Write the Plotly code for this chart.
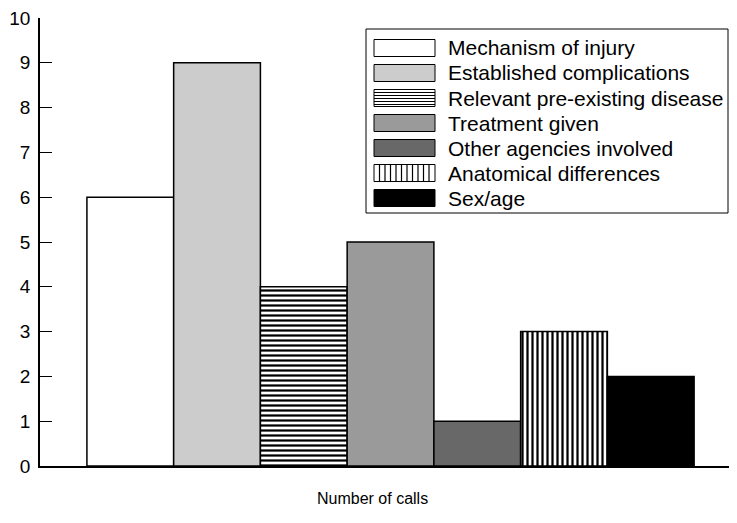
import plotly.graph_objects as go

categories = ["Mechanism of injury", "Established complications",
              "Relevant pre-existing disease", "Treatment given",
              "Other agencies involved", "Anatomical differences", "Sex/age"]
values = [6, 9, 4, 5, 1, 3, 2]
fill_colors = ["#ffffff", "#cccccc", "#ffffff", "#9a9a9a", "#686868", "#ffffff", "#000000"]
patterns = ["", "", "-", "", "", "|", ""]
x_label = "Number of calls"
y_ticks = list(range(0, 11))

# page layout (the html body adds an 8px margin)
W, H = 729, 515
L, R, T, B = 32, 7, 10, 57
PW, PH = W - L - R, H - T - B


def px(x):  # figure-pixel x -> paper
    return (x - L) / PW


def py(y):  # figure-pixel y -> paper
    return (H - B - y) / PH


fig = go.Figure()
for name, v, c, p in zip(categories, values, fill_colors, patterns):
    marker = dict(color=c, line=dict(color="#000000", width=1.5))
    if p:
        marker["pattern"] = dict(shape=p, size=5, solidity=0.45,
                                 fgcolor="#000000", bgcolor="#ffffff", fillmode="replace")
    fig.add_trace(go.Bar(x=[x_label], y=[v], name=name, marker=marker, showlegend=False))

# custom legend (large swatches like the original)
shapes = []
annotations = []
box_l, box_r, box_t, box_b = 358, 720, 21, 205
sw_l, sw_r, sw_h = 366, 427, 17
row0, row_step = 40, 25
shapes.append(dict(type="rect", xref="paper", yref="paper",
                   x0=px(box_l), x1=px(box_r), y0=py(box_b), y1=py(box_t),
                   line=dict(color="#000000", width=1), fillcolor="white", layer="above"))
for i, (name, c, p) in enumerate(zip(categories, fill_colors, patterns)):
    cy = row0 + i * row_step
    y0, y1 = cy + sw_h / 2, cy - sw_h / 2
    shapes.append(dict(type="rect", xref="paper", yref="paper",
                       x0=px(sw_l), x1=px(sw_r), y0=py(y0), y1=py(y1),
                       line=dict(color="#000000", width=1), fillcolor=c, layer="above"))
    if p == "-":
        yy = y1 + 3
        while yy < y0 - 1:
            shapes.append(dict(type="line", xref="paper", yref="paper",
                               x0=px(sw_l), x1=px(sw_r), y0=py(yy), y1=py(yy),
                               line=dict(color="#000000", width=1), layer="above"))
            yy += 3
    elif p == "|":
        xx = sw_l + 5.5
        while xx < sw_r - 1:
            shapes.append(dict(type="line", xref="paper", yref="paper",
                               x0=px(xx), x1=px(xx), y0=py(y0), y1=py(y1),
                               line=dict(color="#000000", width=1.2), layer="above"))
            xx += 5.5
    annotations.append(dict(text=name, xref="paper", yref="paper", x=px(438), y=py(cy),
                            xanchor="left", yanchor="middle", showarrow=False,
                            font=dict(size=21)))

annotations.append(dict(text=x_label, xref="paper", yref="paper", x=px(364), y=-0.049,
                        xanchor="center", yanchor="top", showarrow=False, font=dict(size=16)))

fig.update_layout(
    width=W, height=H,
    margin=dict(l=L, r=R, t=T, b=B, autoexpand=False),
    paper_bgcolor="white", plot_bgcolor="white",
    barmode="group", bargap=0.12, bargroupgap=0,
    font=dict(family="Liberation Sans, Arial, sans-serif", size=16, color="#000000"),
    showlegend=False,
    xaxis=dict(type="category", range=[-0.508, 0.492], showline=True, linecolor="#000000",
               linewidth=1.5, showticklabels=False, ticks="", showgrid=False, zeroline=False),
    yaxis=dict(range=[0, 10], tickvals=y_ticks, ticks="inside", ticklen=12, tickcolor="#000000",
               tickwidth=1, showline=True, linecolor="#000000", linewidth=1.5,
               showgrid=False, zeroline=False, ticklabelstandoff=4, tickfont=dict(size=19),
               ticklabeloverflow="allow", automargin=False),
    shapes=shapes,
    annotations=annotations,
)

fig.write_html("out.html")
